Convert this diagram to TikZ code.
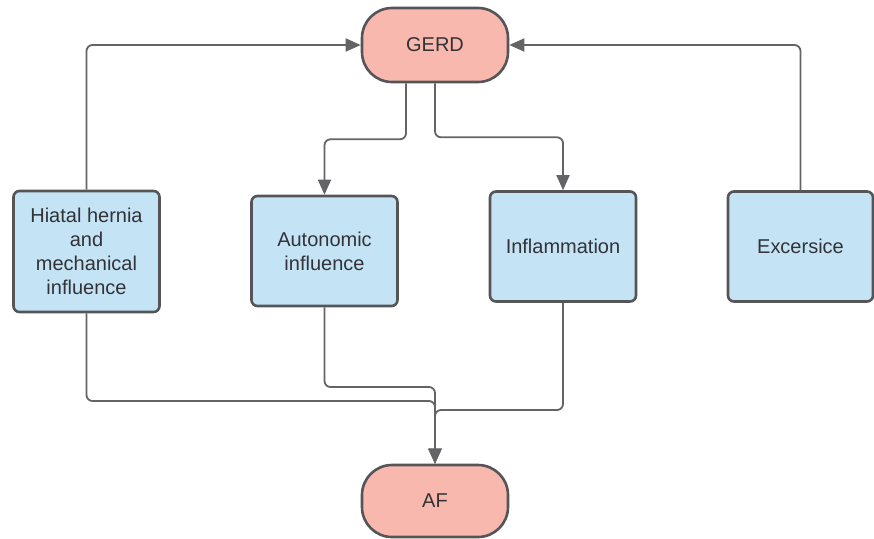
\documentclass[tikz,border=0pt]{standalone}
\usepackage{fontspec}
\setmainfont{Liberation Sans}
\usepackage{xcolor}
\usetikzlibrary{arrows.meta}
\definecolor{boxblue}{RGB}{196,228,246}
\definecolor{boxpink}{RGB}{249,184,174}
\definecolor{edgegray}{RGB}{85,85,88}
\definecolor{linegray}{RGB}{100,100,102}
\definecolor{textgray}{RGB}{50,50,55}
\tikzset{
factor/.style={draw=edgegray, line width=1.3pt, fill=boxblue, rounded corners=3pt, text=textgray, align=center, minimum width=73pt, minimum height=55pt, inner sep=2pt},
term/.style={draw=edgegray, line width=1.3pt, fill=boxpink, rounded corners=15pt, text=textgray, minimum width=73pt, minimum height=37pt},
link/.style={draw=linegray, line width=0.9pt, rounded corners=3pt, -{Triangle[length=7.5pt,width=6.5pt]}}
}

\begin{document}
\begin{tikzpicture}[x=0.5pt, y=0.5pt]
\useasboundingbox (0,0) rectangle (874,-538);

\node[term] (gerd) at (435,-45) {GERD};
\node[term, minimum height=36pt] (af) at (435,-501) {AF};

\node[factor, minimum height=60.5pt] (hiatal) at (86.5,-251.5) {Hiatal hernia\\and\\mechanical\\influence};
\node[factor] (auto) at (324.5,-251) {Autonomic\\influence};
\node[factor] (infl) at (563,-246.5) {Inflammation};
\node[factor, minimum width=72.5pt] (exer) at (800.5,-246.5) {Excersice};

% into GERD
\draw[link] (hiatal.north) |- (gerd.west);
\draw[link] (exer.north) |- (gerd.east);

% out of GERD
\draw[link] ([xshift=-14.5pt]gerd.south) -- ++(0,-56) -| (auto.north);
\draw[link] (gerd.south) -- ++(0,-54) -| (infl.north);

% into AF
\draw[link] (hiatal.south) |- (435,-401) -- (af.north);
\draw[link] (auto.south) |- (435,-387) -- (af.north);
\draw[link] (infl.south) |- (435,-410) -- (af.north);
\end{tikzpicture}
\end{document}
